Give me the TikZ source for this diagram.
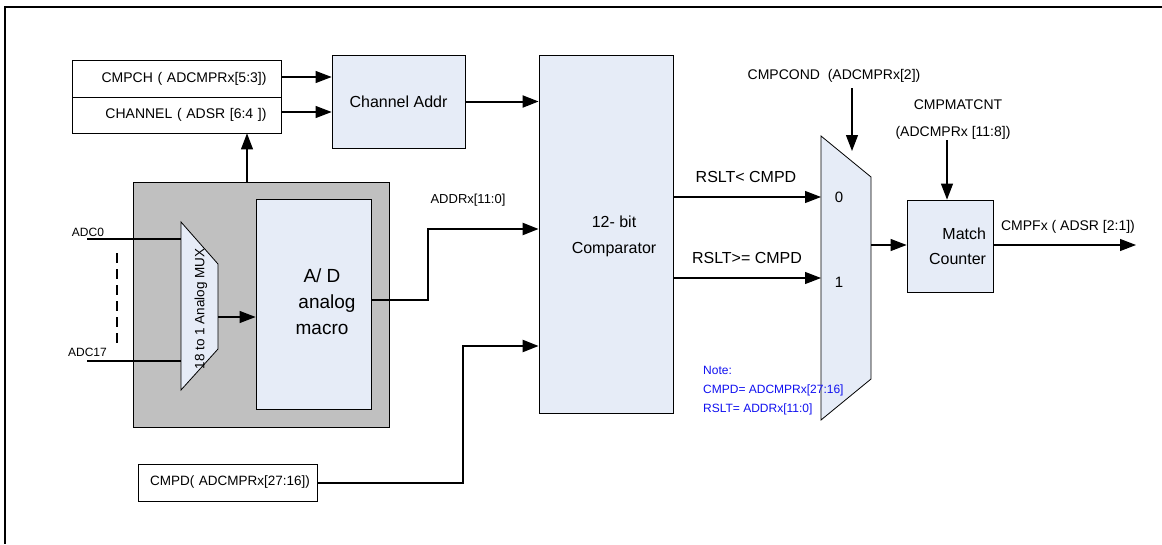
\documentclass[tikz,border=0pt]{standalone}
\usepackage{fontspec}
\setmainfont{Liberation Sans}
\usetikzlibrary{arrows.meta,calc}
\definecolor{boxblue}{HTML}{E6ECF7}
\definecolor{grayfill}{HTML}{C0C0C0}
\definecolor{noteblue}{HTML}{1010F0}
\newcommand{\fs}[1]{\fontsize{#1}{#1}\selectfont}
\begin{document}
\begin{tikzpicture}[x=1pt,y=-1pt,
  box/.style={draw, line width=0.8pt, fill=boxblue, inner sep=0pt},
  wbox/.style={draw, line width=0.8pt, fill=white, inner sep=0pt},
  arr/.style={-{Triangle[length=16pt,width=12pt]}, line width=1.1pt},
  thin/.style={line width=1.1pt},
  lbl/.style={inner sep=0pt, font=\fs{14}},
  big/.style={inner sep=0pt, font=\fs{16}, align=center}]
\useasboundingbox (0,0) rectangle (1162,544);
% frame
\draw[line width=2pt] (4,7) -- (1162,7);
\draw[line width=2pt] (5,6) -- (5,544);

% register boxes
\node[wbox, minimum width=209pt, minimum height=37pt, text width=180pt, align=right, font=\fs{14}] (cmpch) at (176.5,78.5) {CMPCH ( ADCMPRx[5:3])};
\node[wbox, minimum width=209pt, minimum height=36pt, text width=180pt, align=right, font=\fs{14}] (chanrow) at (176.5,115) {CHANNEL ( ADSR [6:4 ])};

% channel addr
\node[box, minimum width=133pt, minimum height=93pt, font=\fs{16}] (chaddr) at (398.5,101.5) {Channel Addr};

% comparator
\node[box, minimum width=134pt, minimum height=358pt] (comp) at (606,234) {};
\node[big, font=\fs{16}] (comptext) at (614,236) {12- bit\\[10pt]Comparator};

% gray ADC block
\node[draw, line width=0.8pt, fill=grayfill, minimum width=256pt, minimum height=245pt, inner sep=0pt] (gray) at (261,304.5) {};
\node[box, minimum width=115pt, minimum height=210pt] (ad) at (313.5,304) {};
\node[inner sep=0pt, font=\fs{19}, align=center] (adtext) at (322,302) {A/ D\\[7pt]\hspace*{10pt}analog\\[7pt]macro};

% analog mux
\coordinate (m1) at (181,222);
\coordinate (m2) at (218,264);
\coordinate (m3) at (218,349);
\coordinate (m4) at (181,390);
\draw[line width=0.8pt, fill=boxblue] (m1) -- (m2) -- (m3) -- (m4) -- cycle;
\node[inner sep=0pt, rotate=90, font=\fs{13.5}] (muxtext) at (201,309) {18 to 1 Analog MUX};

% ADC inputs
\coordinate (adc0) at (87,239);
\coordinate (adc17) at (87,361);
\draw[thin] (adc0) -- (adc0 -| m1);
\draw[thin] (adc17) -- (adc17 -| m1);
\node[inner sep=0pt, font=\fs{12}] (adc0l) at (88,232) {ADC0};
\node[inner sep=0pt, font=\fs{12}] (adc17l) at (87.5,352) {ADC17};
\draw[line width=1.1pt, dash pattern=on 10pt off 6pt] (117,253) -- (117,343);

% mux -> A/D
\coordinate (muxout) at (218,317);
\draw[arr] (muxout) -- (muxout -| ad.west);

% gray -> channel register
\draw[arr] ([xshift=-14pt]gray.north) -- ([xshift=-14pt]gray.north |- chanrow.south);

% register -> channel addr
\draw[arr] ([yshift=1.5pt]cmpch.east) -- ([yshift=1.5pt]cmpch.east -| chaddr.west);
\draw[arr] ([yshift=3pt]chanrow.east) -- ([yshift=3pt]chanrow.east -| chaddr.west);

% channel addr -> comparator
\draw[arr, line width=2pt] (chaddr.east) -- (chaddr.east -| comp.west);

% A/D -> comparator
\coordinate (adoutA) at (428,300);
\coordinate (adoutB) at (428,229);
\draw[arr, line width=2.4pt] (ad.east |- adoutA) -- (adoutA) -- (adoutB) -- (adoutB -| comp.west);
\node[inner sep=0pt, font=\fs{13}] (addrl) at (468,200) {ADDRx[11:0]};

% CMPD register
\node[wbox, minimum width=179pt, minimum height=37pt, text width=165pt, align=right, font=\fs{13.5}] (cmpd) at (227.5,482.5) {CMPD( ADCMPRx[27:16])};
\coordinate (cmpdA) at (463,483);
\coordinate (cmpdB) at (463,346);
\draw[arr, line width=2.4pt] (cmpd.east |- cmpdA) -- (cmpdA) -- (cmpdB) -- (cmpdB -| comp.west);

% output mux
\coordinate (o1) at (821,136);
\coordinate (o2) at (871,177);
\coordinate (o3) at (871,379);
\coordinate (o4) at (821,420);
\draw[line width=0.8pt, fill=boxblue] (o1) -- (o2) -- (o3) -- (o4) -- cycle;
\node[inner sep=0pt, font=\fs{15}] (zero) at (839,197) {0};
\node[inner sep=0pt, font=\fs{15}] (one) at (839,282) {1};

% comparator -> mux
\coordinate (lt) at (673,197);
\coordinate (ge) at (673,278);
\draw[arr] (lt) -- (lt -| o1);
\draw[arr] (ge) -- (ge -| o1);
\node[inner sep=0pt, font=\fs{16}] (ltl) at (746,177) {RSLT< CMPD};
\node[inner sep=0pt, font=\fs{16}] (gel) at (747,258) {RSLT>= CMPD};

% CMPCOND
\node[lbl] (cond) at (834,76) {CMPCOND\ \ (ADCMPRx[2])};
\coordinate (condA) at (852,88);
\coordinate (condB) at (852,151);
\draw[arr] (condA) -- (condB);

% match counter
\node[box, minimum width=86pt, minimum height=92pt, text width=72pt, align=right, font=\fs{16}] (mc) at (950,246) {Match\\[9pt]Counter};
\coordinate (muxout2) at (871,245);
\draw[arr] (muxout2) -- (muxout2 -| mc.west);
\node[lbl] (matcnt) at (958,105) {CMPMATCNT};
\node[lbl] (matcnt2) at (953,133) {(ADCMPRx [11:8])};
\coordinate (mcin) at (947,140);
\draw[arr] (mcin) -- (mcin |- mc.north);

% output
\coordinate (outend) at (1136,245);
\draw[arr] (mc.east |- outend) -- (outend);
\node[lbl] (cmpf) at (1068,227) {CMPFx ( ADSR [2:1])};

% note
\node[inner sep=0pt, anchor=west, font=\fs{12}, text=noteblue, align=left] (note) at (703,391) {Note:\\[7pt]CMPD= ADCMPRx[27:16]\\[7pt]RSLT= ADDRx[11:0]};
\end{tikzpicture}
\end{document}
